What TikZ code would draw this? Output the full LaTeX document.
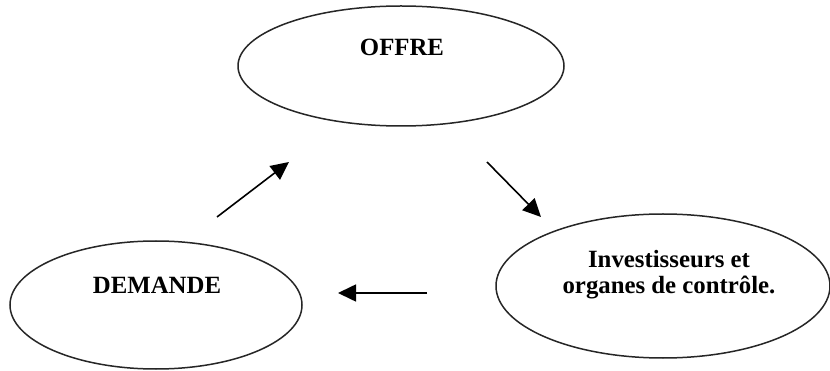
\documentclass[tikz,border=0pt]{standalone}
\usepackage{fontspec}
\setmainfont{Liberation Serif}
\usetikzlibrary{shapes.geometric,arrows.meta}
\begin{document}
\begin{tikzpicture}[x=1pt,y=-1pt,
  oval/.style={draw=black!85, line width=1.5pt, ellipse, inner sep=0pt},
  lbl/.style={font=\fontsize{24.8}{26}\selectfont\bfseries, align=center, inner sep=0pt},
  arr/.style={line width=1.6pt, -{Triangle[length=18pt,width=17pt]}}]
\useasboundingbox (0,0) rectangle (830,371);
\fill[white] (0,0) rectangle (830,371);
\node[oval, minimum width=326pt, minimum height=120pt] (offre) at (401,66) {};
\node[oval, minimum width=292pt, minimum height=128pt] (demande) at (156,305) {};
\node[oval, minimum width=334pt, minimum height=144pt] (invest) at (663,286) {};
\node[lbl] (toffre) at (402,47) {OFFRE};
\node[lbl] (tdemande) at (157,285) {DEMANDE};
\node[lbl] (tinvest) at (669,275) {Investisseurs et\\organes de contrôle.};
\coordinate (a1s) at (217,217);
\coordinate (a1e) at (289,162);
\coordinate (a2s) at (487,162);
\coordinate (a2e) at (541,217);
\coordinate (a3s) at (427,293);
\coordinate (a3e) at (338,293);
\draw[arr] (a1s) -- (a1e);
\draw[arr] (a2s) -- (a2e);
\draw[arr] (a3s) -- (a3e);
\end{tikzpicture}
\end{document}
